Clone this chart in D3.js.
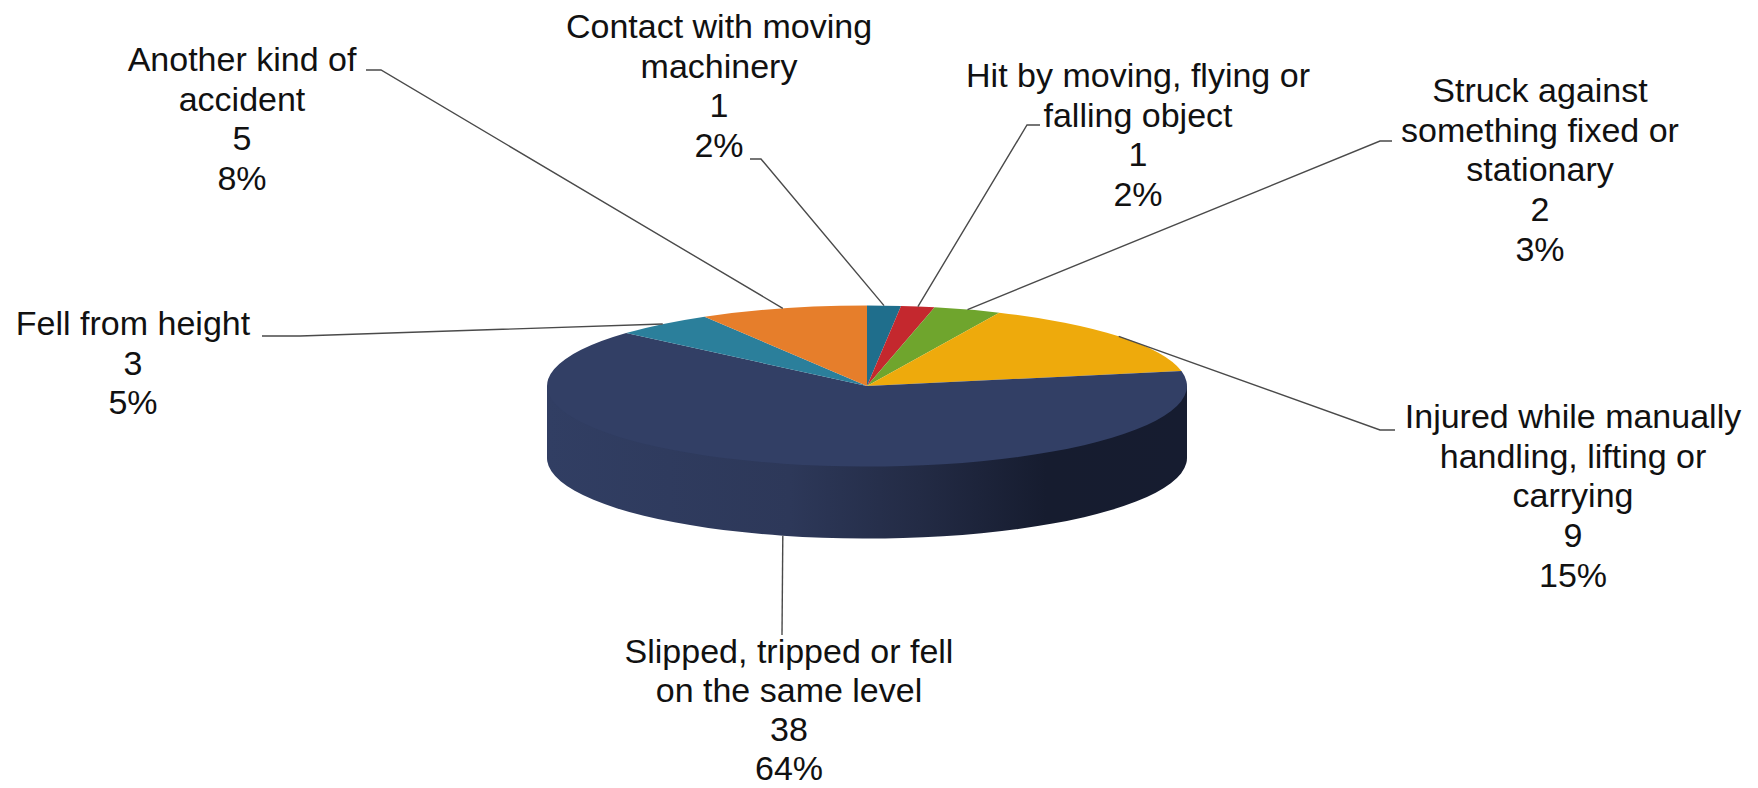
<!DOCTYPE html>
<html><head><meta charset="utf-8">
<script src="https://cdn.jsdelivr.net/npm/d3@7/dist/d3.min.js"></script>
<style>html,body{margin:0;background:#fff}svg{display:block}text{font-family:"Liberation Sans",Arial,sans-serif;font-size:34px;fill:#111}</style>
</head><body><svg id="c" width="1758" height="788"></svg>
<script>
const categories=["Contact with moving machinery","Hit by moving, flying or falling object","Struck against something fixed or stationary","Injured while manually handling, lifting or carrying","Slipped, tripped or fell on the same level","Fell from height","Another kind of accident"];
const wrappedLabels=[["Contact with moving","machinery"],["Hit by moving, flying or","falling object"],["Struck against","something fixed or","stationary"],["Injured while manually","handling, lifting or","carrying"],["Slipped, tripped or fell","on the same level"],["Fell from height"],["Another kind of","accident"]];
const values=[1,1,2,9,38,3,5];
const colors=["#1f6e8c","#c4282e","#6fa52d","#eeaa0c","#323f65","#2b7f9b","#e67e2b"];
const labelX=[719,1138,1540,1573,789,133,242];
const labelY=[38,87,102,428,663,335,71];
const labelGap=[39.7,39.7,39.7,39.7,39,39.7,39.7];
const elbowStart=[[750,159],[1040,125],[1392,141],[1395,430],[782,635],[262,336],[366,70]];
const elbowEnd=[[761,159],[1027,125],[1380,141],[1380,430],[782,635],[300,336],[381,70]];

const cx=867,cy=386,rx=320,ry=80.5,depth=72;
const svg=d3.select("#c");
const total=d3.sum(values);
const pct=d3.format(".0%");
const arcs=d3.pie().sort(null).value(d=>d)(values);
const arc=d3.arc().innerRadius(0).outerRadius(rx);
const rim=d3.arc().innerRadius(rx*2).outerRadius(0); // centroid radius = rx

const grad=svg.append("defs").append("linearGradient").attr("id","side").attr("x1",0).attr("x2",1).attr("y1",0).attr("y2",0);
[[0,"#313e63"],[.38,"#2d3859"],[.58,"#232b45"],[.78,"#161c2f"],[1,"#161c30"]].forEach(s=>grad.append("stop").attr("offset",s[0]).attr("stop-color",s[1]));

const yScale=ry/rx;
// extruded wall of the largest slice
const wall=svg.append("g");
wall.append("path").datum(arcs[4]).attr("d",arc).attr("transform",`translate(${cx},${cy+depth}) scale(1,${yScale})`).attr("fill","url(#side)");
wall.append("rect").attr("x",cx-rx).attr("y",cy).attr("width",2*rx).attr("height",depth).attr("fill","url(#side)");

svg.append("g").attr("transform",`translate(${cx},${cy}) scale(1,${yScale})`)
  .selectAll("path").data(arcs).join("path").attr("d",arc).attr("fill",(d,i)=>colors[i]);

const line=d3.line();
svg.append("g").selectAll("path").data(arcs).join("path")
  .attr("fill","none").attr("stroke","#4a4a4a").attr("stroke-width",1.4)
  .attr("d",(d,i)=>{
    const [px,py]=rim.centroid(d);
    const start=[cx+px,cy+py*yScale+(i===4?depth:0)];
    return line([elbowStart[i],elbowEnd[i],start]);
  });

const labels=svg.append("g").selectAll("text").data(categories).join("text").attr("text-anchor","middle");
labels.each(function(d,i){
  const rows=[...wrappedLabels[i],String(values[i]),pct(values[i]/total)];
  d3.select(this).selectAll("tspan").data(rows).join("tspan")
    .attr("x",labelX[i]).attr("y",(r,k)=>labelY[i]+k*labelGap[i]).text(r=>r);
});
</script></body></html>
